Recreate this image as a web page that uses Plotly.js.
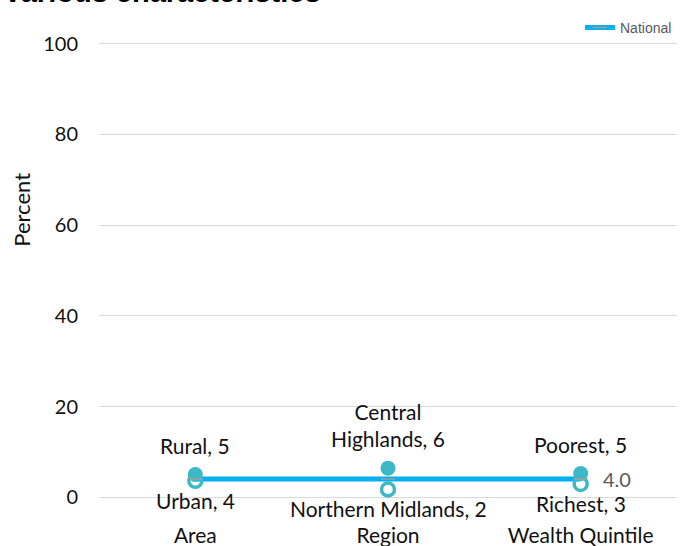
<!DOCTYPE html>
<html>
<head>
<meta charset="utf-8">
<script src="https://cdn.plot.ly/plotly-3.0.1.min.js"></script>
<style>html,body{margin:0;padding:0;background:#fff;}#chart{width:686px;height:546px;}</style>
</head>
<body>
<div id="chart"></div>
<script>
const categories = ['Area', 'Region', 'Wealth Quintile'];
const highNames = ['Rural', 'Central<br>Highlands', 'Poorest'];
const highValues = [5.0, 6.4, 5.2];
const lowNames = ['Urban', 'Northern Midlands', 'Richest'];
const lowValues = [3.6, 1.7, 2.9];
const nationalValues = [4.0, 4.0, 4.0];
const nationalLabel = '4.0';
const yTicks = [0, 20, 40, 60, 80, 100];
const titleText = 'Various characteristics';

const teal = '#3DB8C6';
const blue = '#00B0F0';
const fam = 'Lato, "Noto Sans", sans-serif';
const labelFont = {family: fam, size: 21, color: '#111111'};

const traces = [
  {x: categories, y: nationalValues, mode: 'lines', line: {color: blue, width: 5},
   showlegend: false, hoverinfo: 'skip', cliponaxis: false},
  {x: categories, y: highValues, mode: 'markers', name: 'High',
   marker: {symbol: 'circle', size: 15, color: teal}, showlegend: false, cliponaxis: false},
  {x: categories, y: lowValues, mode: 'markers', name: 'Low',
   marker: {symbol: 'circle-open', size: 13, color: teal, line: {width: 3.5, color: teal}},
   showlegend: false, cliponaxis: false},
  {x: categories, y: nationalValues, mode: 'markers',
   marker: {symbol: 'line-ew', size: 10, color: '#A0A0A0', line: {width: 1.5, color: '#A0A0A0'}},
   showlegend: false, hoverinfo: 'skip', cliponaxis: false},
  {x: [null], y: [null], mode: 'lines+markers', name: 'National',
   line: {color: blue, width: 5},
   marker: {symbol: 'line-ew', size: 10, color: '#A0A0A0', line: {width: 1.5, color: '#A0A0A0'}},
   showlegend: true}
];

const annotations = [];
categories.forEach((c, i) => {
  annotations.push({x: c, y: highValues[i], xref: 'x', yref: 'y',
    text: highNames[i] + ', ' + Math.round(highValues[i]),
    showarrow: false, yanchor: 'bottom', yshift: 15, font: labelFont});
  annotations.push({x: c, y: lowValues[i], xref: 'x', yref: 'y',
    text: lowNames[i] + ', ' + Math.round(lowValues[i]),
    showarrow: false, yanchor: 'top', yshift: -5, font: labelFont});
});
annotations.push({x: categories[categories.length - 1], y: nationalValues[nationalValues.length - 1],
  xref: 'x', yref: 'y', text: nationalLabel, showarrow: false, xanchor: 'left', xshift: 20,
  font: {family: fam, size: 20, color: '#595959'}});
annotations.push({xref: 'paper', yref: 'paper', x: -0.161, y: 0.634, text: 'Percent',
  textangle: -90, showarrow: false, font: {family: fam, size: 22, color: '#111111'}});
annotations.push({xref: 'paper', yref: 'paper', x: -0.170, xanchor: 'left', y: 1.069, yanchor: 'bottom',
  text: '<b>' + titleText + '</b>', showarrow: false,
  font: {family: '"Liberation Sans", Arial, sans-serif', size: 29, color: '#000000'}});

const layout = {
  width: 686, height: 546,
  margin: {l: 98.5, r: 8.5, t: 42.2, b: 46.7},
  paper_bgcolor: '#ffffff', plot_bgcolor: '#ffffff',
  xaxis: {type: 'category', range: [-0.5, 2.5], showgrid: false, showline: false, zeroline: false, ticks: '',
    tickfont: labelFont, ticklabelstandoff: 22, fixedrange: true},
  yaxis: {range: [-0.4, 100.4], tickvals: yTicks, showgrid: true, gridcolor: '#D9D9D9', gridwidth: 1,
    zeroline: false, showline: false, ticks: '', tickfont: {family: fam, size: 20, color: '#111111'},
    ticklabelstandoff: 20, fixedrange: true},
  legend: {orientation: 'h', x: 1, xanchor: 'right', y: 1.0309, yanchor: 'middle',
    bgcolor: 'rgba(0,0,0,0)', font: {family: '"Liberation Sans", Arial, sans-serif', size: 14, color: '#595959'}},
  annotations: annotations,
  showlegend: true
};

Plotly.newPlot('chart', traces, layout, {staticPlot: true, displayModeBar: false});
</script>
</body>
</html>
